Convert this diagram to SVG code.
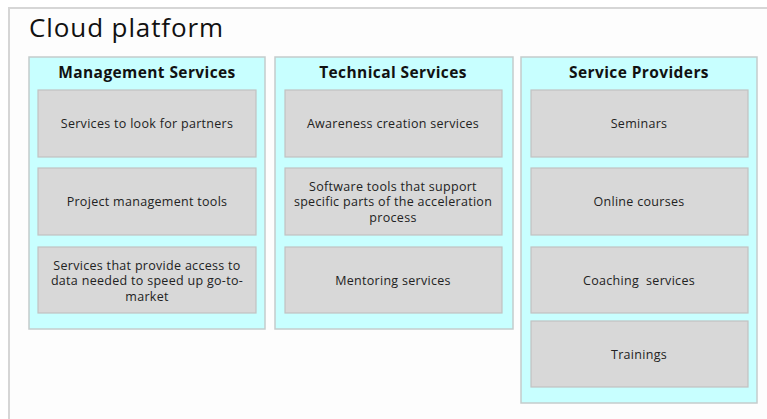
<svg xmlns="http://www.w3.org/2000/svg" width="767" height="419" viewBox="0 0 767 419">
<style>
.frame{fill:#fdfdfd;stroke:#d6d6d6;stroke-width:2}
.panel{fill:#c8ffff;stroke:#c4cccc;stroke-width:1.5}
.box{fill:#d8d8d8;stroke:#c2c2c2;stroke-width:1.2}
.title{font-family:"Open Sans","DejaVu Sans",sans-serif;font-size:26px;letter-spacing:0.9px;fill:#111}
.hdr{font-family:"Open Sans","DejaVu Sans",sans-serif;font-size:15.5px;letter-spacing:0.4px;font-weight:bold;fill:#111;text-anchor:middle}
.lbl{font-family:"Open Sans","DejaVu Sans",sans-serif;font-size:12.5px;letter-spacing:0.3px;fill:#222;text-anchor:middle}
</style>
<rect x="0" y="0" width="767" height="419" fill="#ffffff"/>
<rect class="frame" x="9" y="8" width="770" height="420"/>
<text class="title" x="29" y="36.5">Cloud platform</text>

<g id="management">
<rect class="panel" x="29" y="57" width="236" height="272"/>
<text class="hdr" x="147" y="77.5">Management Services</text>
<g id="m1"><rect class="box" x="38" y="90" width="218" height="67"/><text class="lbl" x="147" y="128">Services to look for partners</text></g>
<g id="m2"><rect class="box" x="38" y="168" width="218" height="67"/><text class="lbl" x="147" y="205.5">Project management tools</text></g>
<g id="m3"><rect class="box" x="38" y="247" width="218" height="66"/><text class="lbl" x="147" y="269.5">Services that provide access to</text><text class="lbl" x="147" y="285">data needed to speed up go-to-</text><text class="lbl" x="147" y="300.5">market</text></g>
</g>

<g id="technical">
<rect class="panel" x="275" y="57" width="238" height="272"/>
<text class="hdr" x="393" y="77.5">Technical Services</text>
<g id="t1"><rect class="box" x="285" y="90" width="217" height="67"/><text class="lbl" x="393" y="128">Awareness creation services</text></g>
<g id="t2"><rect class="box" x="285" y="168" width="217" height="67"/><text class="lbl" x="393" y="190.5">Software tools that support</text><text class="lbl" x="393" y="206">specific parts of the acceleration</text><text class="lbl" x="393" y="221.5">process</text></g>
<g id="t3"><rect class="box" x="285" y="247" width="217" height="66"/><text class="lbl" x="393" y="284.5">Mentoring services</text></g>
</g>

<g id="providers">
<rect class="panel" x="521" y="57" width="236" height="346"/>
<text class="hdr" x="639" y="77.5">Service Providers</text>
<g id="p1"><rect class="box" x="531" y="90" width="217" height="67"/><text class="lbl" x="639" y="128">Seminars</text></g>
<g id="p2"><rect class="box" x="531" y="168" width="217" height="67"/><text class="lbl" x="639" y="205.5">Online courses</text></g>
<g id="p3"><rect class="box" x="531" y="247" width="217" height="66"/><text class="lbl" x="639" y="284.5" xml:space="preserve">Coaching  services</text></g>
<g id="p4"><rect class="box" x="531" y="321" width="217" height="66"/><text class="lbl" x="639" y="358.5">Trainings</text></g>
</g>
<g id="connectors"/>
</svg>
